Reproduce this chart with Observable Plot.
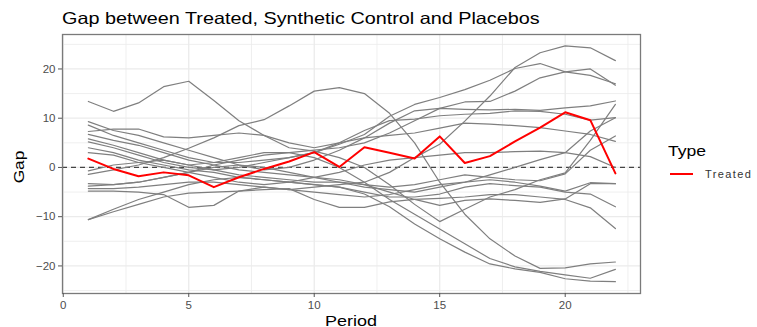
<!DOCTYPE html>
<html><head><meta charset="utf-8">
<script src="https://cdn.jsdelivr.net/npm/d3@7"></script>
<script src="https://cdn.jsdelivr.net/npm/@observablehq/plot@0.6"></script>
<style>
body{margin:0;background:#fff;}
#wrap{position:relative;width:757px;height:327px;font-family:"Liberation Sans",Arial,sans-serif;overflow:hidden;}
#chart{position:absolute;left:0;top:0;}
.t{position:absolute;white-space:nowrap;line-height:1;}
</style></head><body>
<div id="wrap">
<div id="chart"></div>
<div class="t" style="left:62px;top:10px;font-size:16.5px;color:#000;transform-origin:0 0;transform:scaleX(1.2)">Gap between Treated, Synthetic Control and Placebos</div>
<div class="t" style="left:351px;top:320px;font-size:15px;color:#000;transform:translate(-50%,-50%) scaleX(1.2)">Period</div>
<div class="t" style="left:18px;top:167px;font-size:15px;color:#000;transform:translate(-50%,-50%) rotate(-90deg) scaleX(1.15)">Gap</div>
<div class="t" style="left:668px;top:143px;font-size:15px;color:#000;transform-origin:0 0;transform:scaleX(1.17)">Type</div>
<div style="position:absolute;left:670px;top:173px;width:23px;height:2px;background:#ff0000"></div>
<div class="t" style="left:705px;top:169px;font-size:11px;letter-spacing:1.4px;color:#333">Treated</div>
</div>
<script>
const periods = [1,2,3,4,5,6,7,8,9,10,11,12,13,14,15,16,17,18,19,20,21,22];
const treated = [1.8,-0.3,-1.8,-1.0,-1.6,-4.0,-2.0,-0.3,1.2,3.1,0.1,4.1,3.0,1.8,6.3,0.9,2.3,5.3,8.1,11.2,9.6,-1.2];

const p01 = [13.4,11.4,13.1,16.4,17.5,13.6,9.5,6.5,4.0,3.3,2.0,0.0,-3.5,-7.5,-11.0,-8.5,-6.0,-4.5,-2.5,-1.1,5.5,12.8];
const p02 = [-1.4,-0.5,0.5,2.0,3.9,6.0,8.5,9.7,12.5,15.5,16.2,15.0,11.0,5.0,-3.0,-9.5,-14.5,-18.0,-20.5,-20.4,-19.6,-19.2];
const p03 = [4.0,3.0,1.5,0.5,-0.5,-1.0,-2.0,-2.5,-3.0,-3.5,-4.0,-5.4,-8.0,-11.5,-14.5,-17.2,-19.6,-20.6,-21.3,-22.6,-23.1,-23.2];
const p04 = [-0.7,0.5,1.0,1.5,0.5,1.0,2.0,3.0,3.0,2.0,0.0,-3.0,-6.5,-9.5,-12.5,-15.5,-18.5,-20.2,-21.1,-21.8,-22.5,-20.7];
const p05 = [-4.8,-4.8,-5.0,-5.5,-8.1,-7.7,-4.8,-4.0,-4.5,-4.0,-3.5,-3.0,-1.0,2.0,4.7,9.4,14.5,20.3,23.3,24.7,24.3,21.7];
const p06 = [5.2,4.0,2.5,1.0,0.0,-0.5,0.0,1.0,2.0,3.0,4.7,6.7,10.4,12.8,14.2,15.8,17.7,20.1,21.1,19.4,18.7,17.0];
const p07 = [-3.3,-3.5,-3.0,-2.0,-1.0,0.5,1.5,2.5,3.0,3.5,4.0,5.0,7.0,9.5,12.0,13.3,13.4,15.5,18.2,19.4,20.0,16.7];
const p08 = [9.3,7.5,6.5,5.0,3.5,2.0,0.5,-0.5,0.0,1.5,3.5,6.0,9.0,11.5,12.0,11.8,11.7,11.8,11.6,12.1,12.5,13.5];
const p09 = [7.3,7.8,7.8,6.2,6.0,6.5,7.0,6.5,5.0,4.0,5.0,7.5,9.5,9.8,10.5,10.8,11.0,11.5,11.4,10.8,9.6,10.1];
const p10 = [8.6,6.5,5.0,3.5,2.0,1.0,1.0,1.5,2.0,3.0,5.0,6.0,6.5,7.0,8.0,9.0,8.8,8.5,8.1,7.4,6.7,5.3];
const p11 = [3.0,2.5,1.0,0.0,-1.0,-2.0,-3.0,-3.5,-3.0,-2.0,-1.0,0.5,1.5,2.0,2.5,3.0,3.0,3.2,3.3,3.0,2.2,0.0];
const p12 = [-3.8,-3.5,-3.0,-2.0,-1.0,0.0,0.5,0.0,-1.0,-2.0,-3.0,-4.0,-4.5,-5.0,-4.0,-3.0,-1.5,0.0,1.6,3.0,7.4,10.1];
const p13 = [5.8,4.5,3.0,1.5,0.5,-0.5,-1.5,-2.0,-2.5,-3.0,-3.0,-3.5,-4.0,-3.5,-2.5,-1.5,-2.0,-2.5,-2.7,-1.3,3.5,6.4];
const p14 = [-4.3,-4.3,-4.0,-3.5,-3.0,-3.0,-3.5,-4.0,-4.5,-5.0,-5.5,-6.0,-5.5,-4.5,-3.5,-3.0,-2.5,-3.0,-3.8,-4.8,-3.1,-3.3];
const p15 = [6.7,5.5,4.5,3.0,1.5,0.5,-0.5,-1.0,-1.5,-2.0,-2.5,-3.5,-5.0,-6.5,-7.7,-6.7,-6.4,-6.7,-7.1,-6.4,-3.3,-3.3];
const p16 = [-10.6,-8.5,-6.5,-5.0,-3.5,-2.5,-2.0,-2.5,-3.0,-3.5,-4.0,-5.0,-6.0,-6.0,-5.4,-4.0,-3.3,-3.7,-4.0,-5.0,-5.4,-8.0];
const p17 = [-10.6,-9.0,-7.5,-6.0,-5.2,-5.0,-4.8,-4.5,-4.3,-6.5,-8.1,-8.1,-7.0,-6.5,-6.3,-6.0,-5.5,-5.5,-6.0,-6.5,-8.2,-12.4];

const xTicks = [0,5,10,15,20];
const xMinor = [2.5,7.5,12.5,17.5,22.5];
const yTicks = [-20,-10,0,10,20];
const yMinor = [-25,-15,-5,5,15,25];

const placebos = [p01,p02,p03,p04,p05,p06,p07,p08,p09,p10,p11,p12,p13,p14,p15,p16,p17];
const placeboRows = placebos.flatMap((s, i) => s.map((v, j) => ({id: "P" + (i + 1), period: periods[j], gap: v})));
const treatedRows = treated.map((v, j) => ({period: periods[j], gap: v}));

const chart = Plot.plot({
  width: 757, height: 327,
  marginLeft: 62, marginRight: 117, marginTop: 34, marginBottom: 34,
  style: {fontFamily: "'Liberation Sans', Arial, sans-serif", fontSize: "11.5px", color: "#4d4d4d", background: "white"},
  x: {domain: [-0.03, 23.0]},
  y: {domain: [-25.6, 27.0]},
  marks: [
    Plot.gridX(xMinor, {stroke: "#ebebeb", strokeOpacity: 1, strokeWidth: 0.8}),
    Plot.gridX(xTicks, {stroke: "#ebebeb", strokeOpacity: 1, strokeWidth: 1.3}),
    Plot.gridY(yMinor, {stroke: "#ebebeb", strokeOpacity: 1, strokeWidth: 0.8}),
    Plot.gridY(yTicks, {stroke: "#ebebeb", strokeOpacity: 1, strokeWidth: 1.3}),
    Plot.ruleY([0], {stroke: "#444", strokeWidth: 1.2, strokeDasharray: "5,4"}),
    Plot.line(placeboRows, {x: "period", y: "gap", z: "id", stroke: "#7f7f7f", strokeWidth: 1.2}),
    Plot.line(treatedRows, {x: "period", y: "gap", stroke: "#ff0000", strokeWidth: 2}),
    Plot.frame({stroke: "#7a7a7a", strokeWidth: 1.3}),
    Plot.axisX(xTicks, {tickSize: 4, tickPadding: 3, label: null, stroke: "#555", fill: "#4d4d4d"}),
    Plot.axisY(yTicks, {tickSize: 4, tickPadding: 3, label: null, stroke: "#555", fill: "#4d4d4d"})
  ]
});
document.getElementById("chart").appendChild(chart);
</script>
</body></html>
